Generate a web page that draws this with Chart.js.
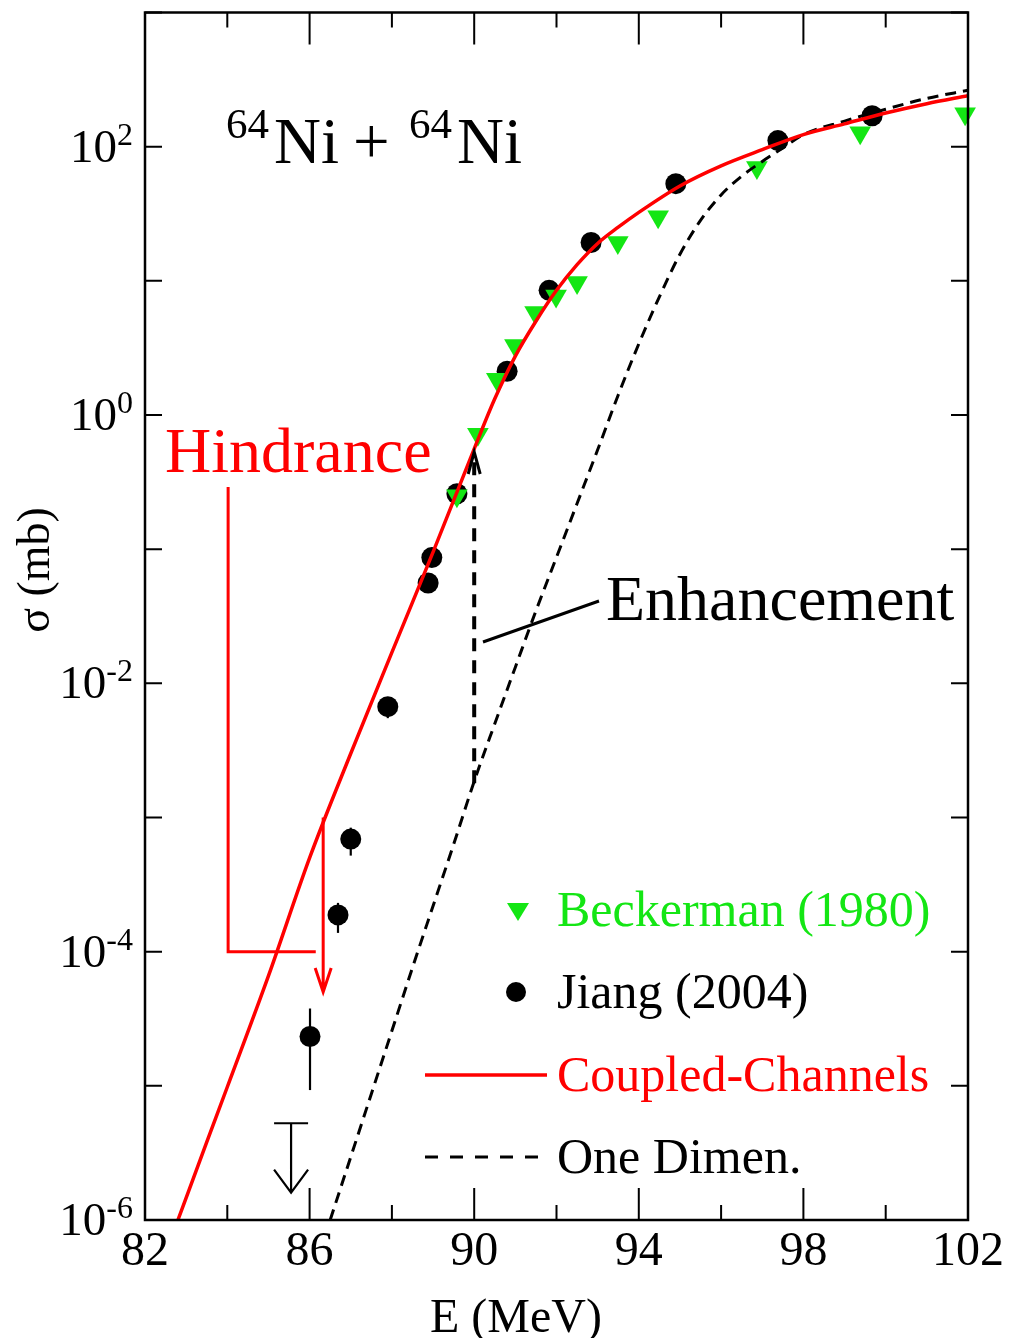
<!DOCTYPE html>
<html>
<head>
<meta charset="utf-8">
<script src="https://cdn.jsdelivr.net/npm/chart.js@4.4.0/dist/chart.umd.min.js"></script>
<style>
  html, body { margin: 0; padding: 0; background: #fff; }
  #wrap { width: 1009px; height: 1338px; position: relative; }
</style>
</head>
<body>
<div id="wrap"><canvas id="fusionChart"></canvas></div>
<script>
var serif = "'Liberation Serif', 'Times New Roman', Times, serif";
var green = '#14e614';

// coupled-channels calculation (E in MeV, sigma in mb)
var ccEnergy = [82.8, 83.5, 84.0, 85.0, 86.0, 87.0, 88.0, 89.0, 90.0, 90.5, 91.0, 91.5, 92.0, 92.5,
                93.0, 93.5, 94.0, 95.0, 96.0, 97.0, 98.0, 99.0, 100.0, 101.0, 102.0];
var ccSigma = [1.0e-6, 3.8e-6, 9.8e-6, 6.6e-5, 5.0e-4, 3.0e-3, 1.7e-2, 9.5e-2, 0.56, 1.32, 2.75, 5.0, 8.5, 13.2,
               19.0, 25.1, 32.4, 51, 72, 95, 123, 148, 178, 209, 240];

// one dimensional barrier penetration
var oneDEnergy = [86.5, 87.0, 87.5, 88.0, 88.5, 89.0, 89.5, 90.0, 90.5, 91.0, 91.5, 92.0, 92.5, 93.0,
                  93.5, 94.0, 94.5, 95.0, 95.5, 96.0, 96.5, 97.0, 97.5, 98.0, 99.0, 100.0, 101.0, 102.0];
var oneDSigma = [1.0e-6, 2.95e-6, 8.7e-6, 2.57e-5, 7.6e-5, 2.19e-4, 6.3e-4, 1.86e-3, 5.0e-3, 1.32e-2, 3.47e-2,
                 8.7e-2, 0.219, 0.55, 1.41, 3.39, 7.6, 15.8, 28.2, 43.7, 60.3, 77.6, 97.7, 123, 155, 190, 229, 263];

// Beckerman (1980)
var beckEnergy = [89.58, 90.09, 90.55, 90.99, 91.48, 91.99, 92.50, 93.49, 94.47, 96.87, 99.38, 101.93];
var beckSigma = [0.25, 0.72, 1.85, 3.3, 5.8, 7.7, 9.7, 19.3, 30, 70, 127, 176];

// Jiang (2004)
var jiangEnergy = [86.01, 86.69, 87.0, 87.9, 88.88, 88.97, 89.58, 90.80, 91.82, 92.84, 94.90, 97.38, 99.67];
var jiangSigma = [2.33e-5, 1.88e-4, 6.9e-4, 6.7e-3, 0.056, 0.0865, 0.259, 2.12, 8.5, 19.3, 53, 111, 170];
var jiangErrLo = [9.3e-6, 1.38e-4, 5.2e-4, 5.5e-3, null, null, null, null, null, null, null, null, null];
var jiangErrHi = [3.77e-5, 2.31e-4, 8.4e-4, 7.0e-3, null, null, null, null, null, null, null, null, null];

// upper limit
var limitEnergy = [85.55];
var limitSigma = [5.26e-6];
var limitTip = [1.6e-6];

// axis ticks
var xTicks = [82, 84, 86, 88, 90, 92, 94, 96, 98, 100, 102];
var xTickLabels = ['82', '', '86', '', '90', '', '94', '', '98', '', '102'];
var yDecades = [-6, -5, -4, -3, -2, -1, 0, 1, 2, 3];
var yLabelExp = [-6, -4, -2, 0, 2];

function pts(xs, ys) {
    return xs.map(function (x, i) { return { x: x, y: ys[i] }; });
}

// frame, ticks, labels and annotations
var decorPlugin = {
    id: 'decor',
    beforeDatasetsDraw: function (chart) {
        var c = chart.ctx, xs = chart.scales.x, ys = chart.scales.y;
        c.save();
        c.strokeStyle = '#000';
        c.lineWidth = 2.2;
        // error bars
        jiangEnergy.forEach(function (e, i) {
            if (jiangErrLo[i] == null) return;
            var px = xs.getPixelForValue(e);
            c.beginPath();
            c.moveTo(px, ys.getPixelForValue(jiangErrLo[i]));
            c.lineTo(px, ys.getPixelForValue(jiangErrHi[i]));
            c.stroke();
        });
        // upper limit
        limitEnergy.forEach(function (e, i) {
            var px = xs.getPixelForValue(e);
            var py = ys.getPixelForValue(limitSigma[i]);
            var tip = ys.getPixelForValue(limitTip[i]);
            c.beginPath();
            c.moveTo(px - 17, py); c.lineTo(px + 17, py);
            c.moveTo(px, py); c.lineTo(px, tip);
            c.moveTo(px - 17, tip - 23); c.lineTo(px, tip); c.lineTo(px + 17, tip - 23);
            c.stroke();
        });
        c.restore();
    },
    afterDraw: function (chart) {
        var c = chart.ctx, a = chart.chartArea, xs = chart.scales.x, ys = chart.scales.y;
        c.save();
        c.strokeStyle = '#000';
        c.fillStyle = '#000';

        // ticks
        c.lineWidth = 2;
        c.beginPath();
        xTicks.forEach(function (v, i) {
            var px = xs.getPixelForValue(v);
            var len = xTickLabels[i] ? 32 : 15;
            c.moveTo(px, a.bottom); c.lineTo(px, a.bottom - len);
            c.moveTo(px, a.top); c.lineTo(px, a.top + len);
        });
        yDecades.forEach(function (k) {
            var py = ys.getPixelForValue(Math.pow(10, k));
            c.moveTo(a.left, py); c.lineTo(a.left + 17, py);
            c.moveTo(a.right, py); c.lineTo(a.right - 17, py);
        });
        c.stroke();

        // frame
        c.lineWidth = 2.5;
        c.strokeRect(a.left, a.top, a.right - a.left, a.bottom - a.top);

        // x tick labels
        c.font = '48px ' + serif;
        c.textAlign = 'center';
        c.textBaseline = 'alphabetic';
        xTicks.forEach(function (v, i) {
            if (!xTickLabels[i]) return;
            c.fillText(xTickLabels[i], xs.getPixelForValue(v), a.bottom + 45);
        });

        // y tick labels 10^k
        c.textAlign = 'left';
        yLabelExp.forEach(function (k) {
            var py = ys.getPixelForValue(Math.pow(10, k));
            var exp = k < 0 ? '-' + (-k) : String(k);
            c.font = '32px ' + serif;
            var we = c.measureText(exp).width;
            c.font = '47px ' + serif;
            var wb = c.measureText('10').width;
            var right = a.left - 12;
            c.fillText('10', right - we - wb, py + 15);
            c.font = '32px ' + serif;
            c.fillText(exp, right - we, py - 2);
        });

        // axis titles
        c.font = '48px ' + serif;
        c.textAlign = 'center';
        c.fillText('E (MeV)', 516, 1332);
        c.save();
        c.translate(49, 570);
        c.rotate(-Math.PI / 2);
        c.font = '46px ' + serif;
        c.fillText('\u03c3 (mb)', 0, 0);
        c.restore();

        // reaction label
        c.textAlign = 'left';
        c.font = '43px ' + serif;
        c.fillText('64', 226, 138);
        c.fillText('64', 409, 138);
        c.font = '65px ' + serif;
        c.fillText('Ni', 274, 163);
        c.fillText('+', 353, 163);
        c.fillText('Ni', 457, 163);

        // Hindrance
        c.fillStyle = '#ff0000';
        c.strokeStyle = '#ff0000';
        c.font = '64px ' + serif;
        c.fillText('Hindrance', 165, 472);
        c.lineWidth = 3;
        c.beginPath();
        c.moveTo(xs.getPixelForValue(84.02), 487);
        c.lineTo(xs.getPixelForValue(84.02), ys.getPixelForValue(1e-4));
        c.lineTo(xs.getPixelForValue(86.15), ys.getPixelForValue(1e-4));
        var hx = xs.getPixelForValue(86.33);
        var hTop = ys.getPixelForValue(1e-3);
        var hTip = ys.getPixelForValue(5e-5);
        c.moveTo(hx, hTop); c.lineTo(hx, hTip);
        c.moveTo(hx - 8, hTip - 24); c.lineTo(hx, hTip); c.lineTo(hx + 8, hTip - 24);
        c.stroke();

        // Enhancement
        c.fillStyle = '#000';
        c.strokeStyle = '#000';
        var ex = xs.getPixelForValue(90.0);
        var eBot = ys.getPixelForValue(1.8e-3);
        var eTip = ys.getPixelForValue(0.53);
        c.lineWidth = 4;
        c.setLineDash([13, 9]);
        c.beginPath();
        c.moveTo(ex, eBot); c.lineTo(ex, eTip + 4);
        c.stroke();
        c.setLineDash([]);
        c.lineWidth = 3;
        c.beginPath();
        c.moveTo(ex - 6, eTip + 22); c.lineTo(ex, eTip); c.lineTo(ex + 6, eTip + 22);
        c.moveTo(483, 642); c.lineTo(599, 601);
        c.stroke();
        c.font = '64px ' + serif;
        c.fillText('Enhancement', 606, 620);

        // legend
        c.font = '50px ' + serif;
        c.fillStyle = green;
        c.beginPath();
        c.moveTo(507, 903); c.lineTo(529, 903); c.lineTo(518, 921); c.closePath();
        c.fill();
        c.fillText('Beckerman (1980)', 557, 926);
        c.fillStyle = '#000';
        c.beginPath();
        c.arc(516, 992, 10, 0, Math.PI * 2);
        c.fill();
        c.fillText('Jiang (2004)', 557, 1008);
        c.strokeStyle = '#ff0000';
        c.lineWidth = 3.5;
        c.beginPath();
        c.moveTo(425, 1075); c.lineTo(547, 1075);
        c.stroke();
        c.fillStyle = '#ff0000';
        c.fillText('Coupled-Channels', 557, 1091);
        c.strokeStyle = '#000';
        c.lineWidth = 3;
        c.setLineDash([13, 12]);
        c.beginPath();
        c.moveTo(425, 1157); c.lineTo(545, 1157);
        c.stroke();
        c.setLineDash([]);
        c.fillStyle = '#000';
        c.fillText('One Dimen.', 557, 1173);

        c.restore();
    }
};

var ctx = document.getElementById('fusionChart').getContext('2d');
new Chart(ctx, {
    type: 'line',
    data: {
        datasets: [{
            label: 'Coupled-Channels',
            data: pts(ccEnergy, ccSigma),
            borderColor: '#ff0000',
            borderWidth: 3.5,
            pointRadius: 0,
            cubicInterpolationMode: 'monotone',
            fill: false
        }, {
            label: 'One Dimen.',
            data: pts(oneDEnergy, oneDSigma),
            borderColor: '#000',
            borderWidth: 3,
            borderDash: [11, 7],
            pointRadius: 0,
            cubicInterpolationMode: 'monotone',
            fill: false
        }, {
            label: 'Beckerman (1980)',
            data: pts(beckEnergy, beckSigma),
            showLine: false,
            pointStyle: 'triangle',
            rotation: 180,
            pointRadius: 12.5,
            pointBackgroundColor: green,
            pointBorderWidth: 0,
            clip: false
        }, {
            label: 'Jiang (2004)',
            data: pts(jiangEnergy, jiangSigma),
            showLine: false,
            pointStyle: 'circle',
            pointRadius: 10.5,
            pointBackgroundColor: '#000',
            pointBorderWidth: 0,
            clip: false
        }]
    },
    options: {
        responsive: true,
        maintainAspectRatio: false,
        animation: false,
        layout: { padding: { left: 145, right: 41, top: 10, bottom: 118 } },
        scales: {
            x: { type: 'linear', min: 82, max: 102, display: false },
            y: { type: 'logarithmic', min: 1e-6, max: 1e3, display: false }
        },
        plugins: {
            legend: { display: false },
            tooltip: { enabled: false }
        }
    },
    plugins: [decorPlugin]
});
</script>
</body>
</html>
